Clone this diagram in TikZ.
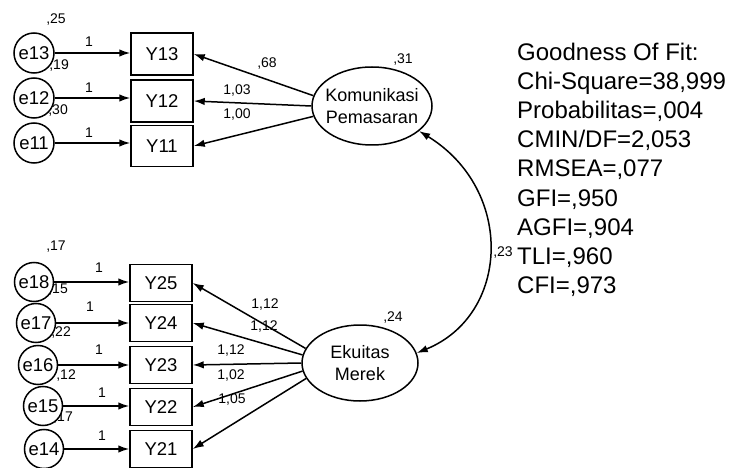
\documentclass[tikz,border=0pt]{standalone}
\usepackage{fontspec}
\setmainfont{Liberation Sans}
\usetikzlibrary{shapes.geometric,arrows.meta}
\tikzset{
  obs/.style={draw, line width=1.5pt, minimum width=62pt, minimum height=#1, inner sep=0pt, font=\fontsize{18.5}{18.5}\selectfont},
  obs/.default=40pt,
  err/.style={draw, circle, line width=1.5pt, minimum size=39pt, inner sep=0pt, fill=white, font=\fontsize{18.5}{18.5}\selectfont},
  lat/.style={draw, ellipse, line width=1.5pt, align=center, inner xsep=-6pt, inner ysep=0pt, font=\fontsize{18}{21.5}\selectfont},
  lbl/.style={inner sep=0pt, font=\fontsize{14}{14}\selectfont},
  arr/.style={line width=1.5pt, -{Latex[length=11pt,width=7.5pt]}},
  dbl/.style={line width=1.5pt, {Latex[length=11pt,width=7.5pt]}-{Latex[length=11pt,width=7.5pt]}},
}
\begin{document}
\begin{tikzpicture}[x=1pt,y=-1pt]
\useasboundingbox (0,0) rectangle (737,468);
% small variance labels (drawn before circles)
\node[lbl] (v13) at (56,20) {,25};
\node[lbl,anchor=east] (r13) at (69,66) {,19};
\node[lbl,anchor=east] (r12) at (68,111) {,30};
\node[lbl] (v18) at (56,247) {,17};
\node[lbl,anchor=east] (r18) at (68,290) {,15};
\node[lbl,anchor=east] (r17) at (71,333) {,22};
\node[lbl,anchor=east] (r16) at (76,376) {,12};
\node[lbl,anchor=east] (r15) at (73,418) {,17};
% latent variables
\node[lat, minimum width=120pt, minimum height=78pt] (eta1) at (372,106) {Komunikasi\\Pemasaran};
\node[lat, minimum width=116pt, minimum height=76pt] (eta2) at (360,363) {Ekuitas\\Merek};
% observed
\node[obs=42pt] (Y13) at (162,54) {Y13};
\node[obs=42pt] (Y12) at (162,101) {Y12};
\node[obs=41pt] (Y11) at (162,146) {Y11};
\node[obs=37pt] (Y25) at (161,283) {Y25};
\node[obs=37pt] (Y24) at (161,323) {Y24};
\node[obs=37pt] (Y23) at (161,365) {Y23};
\node[obs=37pt] (Y22) at (161,407) {Y22};
\node[obs=37pt] (Y21) at (161,449) {Y21};
% errors
\node[err, minimum size=40pt] (e13) at (34,53) {e13};
\node[err, minimum size=40pt] (e12) at (34,98) {e12};
\node[err, minimum size=40pt] (e11) at (34,143) {e11};
\node[err] (e18) at (34,282) {e18};
\node[err] (e17) at (36,323) {e17};
\node[err] (e16) at (38,365) {e16};
\node[err] (e15) at (43,406) {e15};
\node[err] (e14) at (44,449) {e14};
% error arrows
\foreach \e/\y in {e13/Y13,e12/Y12,e11/Y11,e18/Y25,e17/Y24,e16/Y23,e15/Y22,e14/Y21}
  \draw[arr] (\e) -- (\e -| \y.west);
\node[lbl] (w13) at (89,42) {1};
\node[lbl] (w12) at (89,88) {1};
\node[lbl] (w11) at (89,133) {1};
\node[lbl] (w18) at (99,268) {1};
\node[lbl] (w17) at (90,307) {1};
\node[lbl] (w16) at (99,350) {1};
\node[lbl] (w15) at (102,393) {1};
\node[lbl] (w14) at (102,436) {1};
% loadings
\draw[arr] (eta1.170) -- (Y13.east);
\draw[arr] (eta1.180) -- (Y12.east);
\draw[arr] (eta1.190) -- (Y11.east);
\draw[arr] (eta2.165) -- (Y25.east);
\draw[arr] (eta2.172) -- (Y24.east);
\draw[arr] (eta2.180) -- (Y23.east);
\draw[arr] (eta2.188) -- (Y22.east);
\draw[arr] (eta2.196) -- (Y21.east);
\node[lbl] (l13) at (267,64) {,68};
\node[lbl] (l12) at (237,91) {1,03};
\node[lbl] (l11) at (237,115) {1,00};
\node[lbl] (l25) at (265,305) {1,12};
\node[lbl] (l24) at (264,327) {1,12};
\node[lbl] (l23) at (231,351) {1,12};
\node[lbl] (l22) at (231,376) {1,02};
\node[lbl] (l21) at (232,400) {1,05};
% variances of latents
\node[lbl] (v1) at (403,60) {,31};
\node[lbl] (v2) at (393,318) {,24};
% covariance
\draw[dbl] (eta1.-28) .. controls (515,190) and (510,315) .. (eta2.10);
\node[lbl] (cov) at (503,253) {,23};
% goodness of fit
\node[anchor=north west, align=left, inner sep=0pt, font=\fontsize{24}{29.1}\selectfont] (gof) at (517,43)
 {Goodness Of Fit:\\Chi-Square=38,999\\Probabilitas=,004\\CMIN/DF=2,053\\RMSEA=,077\\GFI=,950\\AGFI=,904\\TLI=,960\\CFI=,973};
\end{tikzpicture}
\end{document}
